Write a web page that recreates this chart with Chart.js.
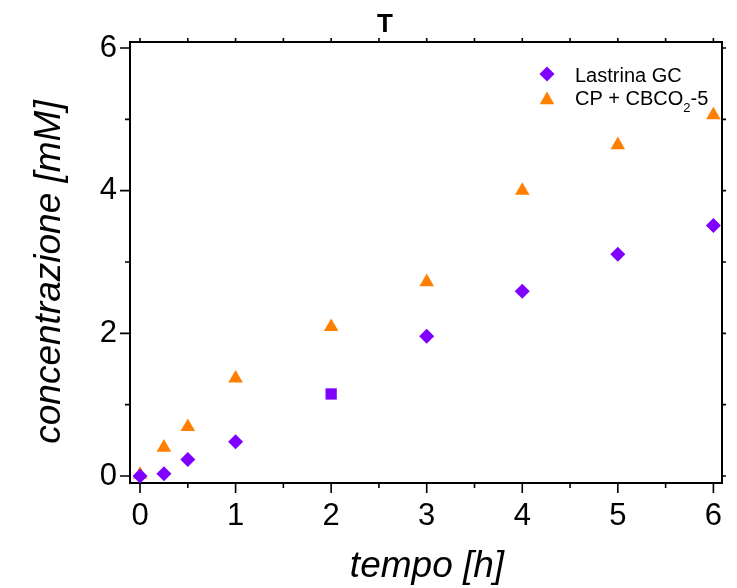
<!DOCTYPE html>
<html><head><meta charset="utf-8">
<script src="https://cdn.jsdelivr.net/npm/chart.js@4/dist/chart.umd.min.js"></script>
<style>html,body{margin:0;padding:0;background:#fff}#wrap{width:737px;height:588px}</style>
</head><body><div id="wrap"><canvas id="c" width="737" height="588"></canvas></div>
<script>
const timesHours = [0, 0.25, 0.5, 1, 2, 3, 4, 5, 6];
const lastrinaGC = [0.0, 0.03, 0.23, 0.48, 1.15, 1.96, 2.59, 3.11, 3.51];
const cpCbco2 = [0.02, 0.40, 0.69, 1.37, 2.09, 2.72, 4.00, 4.64, 5.06];
const seriesLabels = ['Lastrina GC', 'CP + CBCO₂-5'];
const chartTitle = 'T';
const xTitle = 'tempo [h]';
const yTitle = 'concentrazione [mM]';

const PURPLE = '#7f00ff', ORANGE = '#ff8000';
const FONT = '"Liberation Sans", Arial, sans-serif';

const pts = (ys) => timesHours.map((x, i) => ({x, y: ys[i]}));

const framePlugin = {
  id: 'frame',
  beforeDatasetsDraw(chart) {
    const {ctx, chartArea: a, scales: {x, y}} = chart;
    ctx.save();
    ctx.strokeStyle = '#000';
    ctx.lineWidth = 2;
    ctx.strokeRect(a.left, a.top, a.right - a.left, a.bottom - a.top);
    ctx.lineWidth = 1.6;
    const xt = x.ticks.map(t => t.value), yt = y.ticks.map(t => t.value);
    const mids = (arr) => { const m = []; for (let i = 0; i < arr.length - 1; i++) m.push((arr[i] + arr[i+1]) / 2); return m; };
    const xm = mids(xt), ym = mids(yt);
    ctx.beginPath();
    xt.forEach(v => { const p = x.getPixelForValue(v); ctx.moveTo(p, a.bottom); ctx.lineTo(p, a.bottom + 10); ctx.moveTo(p, a.top); ctx.lineTo(p, a.top - 4); });
    xm.forEach(v => { const p = x.getPixelForValue(v); ctx.moveTo(p, a.bottom); ctx.lineTo(p, a.bottom + 5); ctx.moveTo(p, a.top); ctx.lineTo(p, a.top - 4); });
    yt.forEach(v => { const p = y.getPixelForValue(v); ctx.moveTo(a.left, p); ctx.lineTo(a.left - 10, p); ctx.moveTo(a.right, p); ctx.lineTo(a.right + 4, p); });
    ym.forEach(v => { const p = y.getPixelForValue(v); ctx.moveTo(a.left, p); ctx.lineTo(a.left - 5, p); ctx.moveTo(a.right, p); ctx.lineTo(a.right + 4, p); });
    ctx.stroke();
    ctx.restore();
  },
  afterDraw(chart) {
    const {ctx} = chart;
    ctx.save();
    ctx.fillStyle = '#000';
    ctx.font = 'bold 26px ' + FONT;
    ctx.textAlign = 'center';
    ctx.textBaseline = 'alphabetic';
    ctx.fillText(chartTitle, 385, 32);
    ctx.font = 'italic 37px ' + FONT;
    ctx.fillText(xTitle, 427, 577);
    ctx.save();
    ctx.translate(60, 272);
    ctx.rotate(-Math.PI / 2);
    ctx.fillText(yTitle, 0, 0);
    ctx.restore();
    ctx.textAlign = 'left';
    ctx.fillStyle = PURPLE;
    ctx.beginPath();
    ctx.moveTo(547 - 7.5, 74); ctx.lineTo(547, 74 - 7.5); ctx.lineTo(547 + 7.5, 74); ctx.lineTo(547, 74 + 7.5); ctx.closePath();
    ctx.fill();
    ctx.fillStyle = ORANGE;
    const r = 8.4, cx = 547, cy = 100;
    ctx.beginPath();
    ctx.moveTo(cx, cy - r);
    ctx.lineTo(cx + Math.sin(2*Math.PI/3) * r, cy - Math.cos(2*Math.PI/3) * r);
    ctx.lineTo(cx + Math.sin(4*Math.PI/3) * r, cy - Math.cos(4*Math.PI/3) * r);
    ctx.closePath();
    ctx.fill();
    ctx.fillStyle = '#000';
    ctx.font = '20px ' + FONT;
    ctx.fillText(seriesLabels[0], 575, 82);
    const parts = seriesLabels[1].split('₂');
    let tx = 575;
    ctx.fillText(parts[0], tx, 105);
    tx += ctx.measureText(parts[0]).width;
    ctx.font = '13px ' + FONT;
    ctx.fillText('2', tx, 112);
    tx += ctx.measureText('2').width;
    ctx.font = '20px ' + FONT;
    ctx.fillText(parts[1], tx, 105);
    ctx.restore();
  }
};

new Chart(document.getElementById('c'), {
  type: 'scatter',
  data: {
    datasets: [
      {
        label: seriesLabels[0],
        data: pts(lastrinaGC),
        backgroundColor: PURPLE,
        borderWidth: 0,
        pointStyle: ['rectRot', 'rectRot', 'rectRot', 'rectRot', 'rect', 'rectRot', 'rectRot', 'rectRot', 'rectRot'],
        pointRadius: [7.5, 7.5, 7.5, 7.5, 8, 7.5, 7.5, 7.5, 7.5],
        clip: false
      },
      {
        label: seriesLabels[1],
        data: pts(cpCbco2),
        backgroundColor: ORANGE,
        borderWidth: 0,
        pointStyle: 'triangle',
        pointRadius: 8.4,
        clip: false
      }
    ]
  },
  options: {
    responsive: false,
    devicePixelRatio: 1,
    animation: false,
    events: [],
    layout: {padding: {left: 0, top: 42, right: 15, bottom: 0}},
    plugins: {legend: {display: false}, title: {display: false}, tooltip: {enabled: false}},
    scales: {
      x: {
        type: 'linear', min: -0.105, max: 6.09,
        ticks: {stepSize: 1, includeBounds: false, color: '#000', font: {family: FONT, size: 31}, padding: 5, maxRotation: 0},
        grid: {drawOnChartArea: false, tickColor: 'rgba(0,0,0,0)', tickLength: 10},
        border: {display: false},
        afterFit: s => { s.height = 105; }
      },
      y: {
        type: 'linear', min: -0.098, max: 6.084,
        ticks: {stepSize: 2, includeBounds: false, color: '#000', font: {family: FONT, size: 31}, padding: 3},
        grid: {drawOnChartArea: false, tickColor: 'rgba(0,0,0,0)', tickLength: 10},
        border: {display: false},
        afterFit: s => { s.width = 130; }
      }
    }
  },
  plugins: [framePlugin]
});
</script>
</body></html>
